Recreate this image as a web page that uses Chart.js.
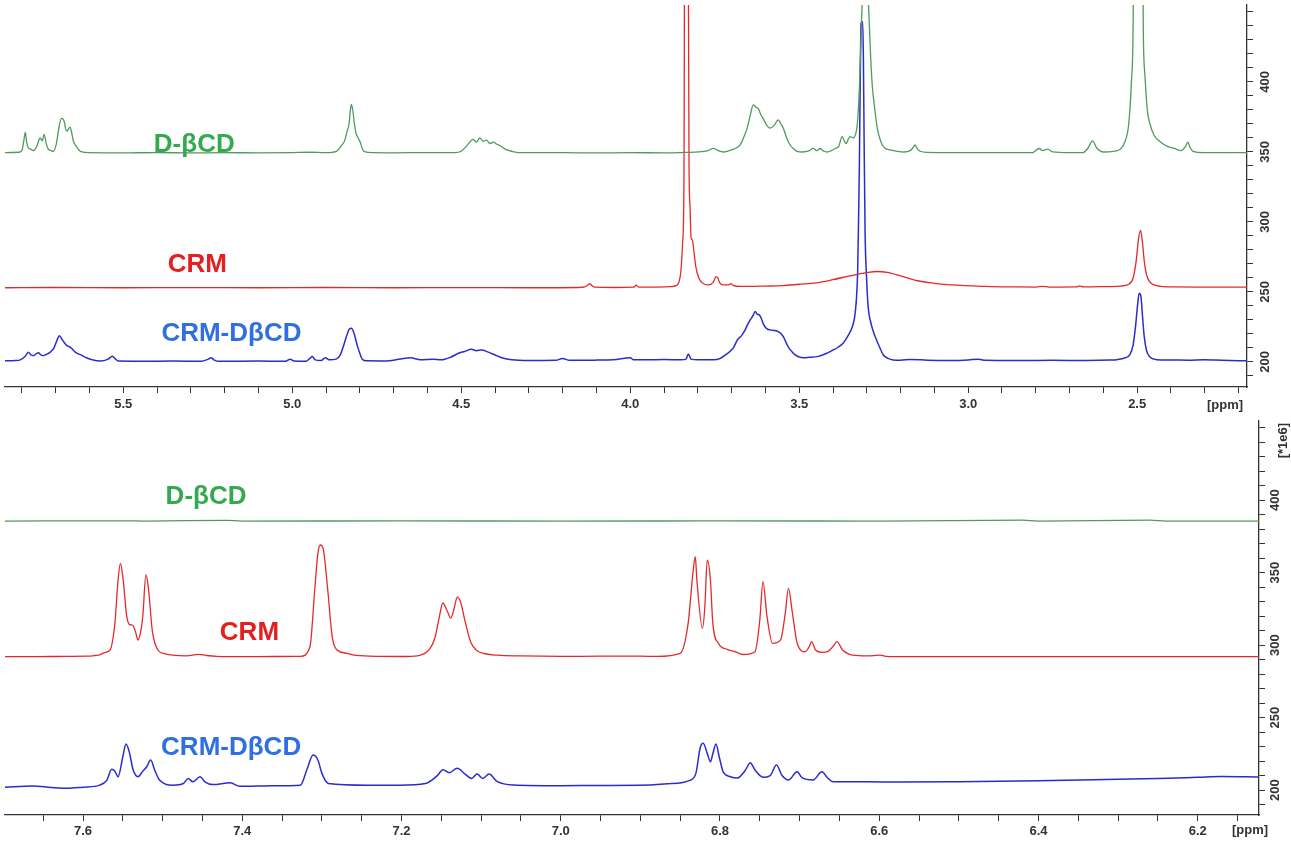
<!DOCTYPE html>
<html><head><meta charset="utf-8">
<script src="https://cdn.jsdelivr.net/npm/chart.js@4.4.0/dist/chart.umd.min.js"></script>
<style>
html,body{margin:0;padding:0;background:#fff;overflow:hidden}
#wrap{position:relative;width:1291px;height:846px;background:#fff}
canvas{position:absolute;left:0}
#c1{top:0}
#c2{top:420px}
</style></head><body>
<div id="wrap"><canvas id="c1" width="1291" height="420"></canvas><canvas id="c2" width="1291" height="426"></canvas></div>
<script>
// ---------- DATA (ppm, intensity *1e6) ----------
const seriesNames = ['D-βCD', 'CRM', 'CRM-DβCD'];
const lineColors = ['#4f9a5c', '#e5292b', '#2b2bd0'];
const textColors = ['#33aa4e', '#e3201f', '#2f6fe3'];

const topXLabels = ['5.5', '5.0', '4.5', '4.0', '3.5', '3.0', '2.5'];
const botXLabels = ['7.6', '7.4', '7.2', '7.0', '6.8', '6.6', '6.4', '6.2'];
const yLabels = ['200', '250', '300', '350', '400'];

const topLabelPpm = [5.29, 5.281, 5.18];
const topLabelVal = [355, 269.3, 220];
const botLabelPpm = [7.4455, 7.391, 7.414];
const botLabelVal = [402, 308.3, 229];

const topGreen = [[5.85,349.5],[5.81,349.8],[5.80,351],[5.795,357],[5.790,364],[5.786,357],[5.781,353],[5.774,352],[5.766,351],[5.756,354],[5.746,360],[5.740,358],[5.734,362.6],[5.728,356],[5.722,352],[5.714,351],[5.707,350.5],[5.698,356],[5.690,368],[5.683,374],[5.675,372],[5.670,366],[5.666,365],[5.661,367],[5.657,367.6],[5.652,363],[5.648,358],[5.642,355],[5.636,353],[5.630,351],[5.622,350],[5.60,349.5],[5.50,349.3],[5.40,349.6],[5.30,349.3],[5.20,349.5],[5.10,349.4],[5.00,349.6],[4.95,349.8],[4.90,349.5],[4.87,350.5],[4.853,355],[4.845,358],[4.838,364.5],[4.832,370],[4.828,380],[4.825,384],[4.821,380],[4.816,370],[4.811,363],[4.805,360],[4.799,357],[4.792,352],[4.784,350],[4.76,349.5],[4.70,349.4],[4.60,349.6],[4.52,349.5],[4.50,350.5],[4.485,354],[4.475,357],[4.465,359],[4.455,357],[4.445,360],[4.435,357.5],[4.425,358.5],[4.415,356],[4.405,357],[4.395,355.5],[4.385,354.5],[4.37,352],[4.35,350.5],[4.33,349.6],[4.20,349.5],[4.10,349.3],[4.00,349.5],[3.90,349.4],[3.85,349.6],[3.80,350],[3.77,351],[3.754,352.6],[3.74,351],[3.725,350],[3.70,351.5],[3.685,353],[3.675,355],[3.665,360],[3.654,367],[3.645,376],[3.636,383.6],[3.628,382],[3.621,381],[3.614,377],[3.607,374],[3.596,369],[3.586,367],[3.574,369],[3.562,373],[3.554,370],[3.547,367],[3.537,360],[3.527,355],[3.515,352],[3.506,350.5],[3.49,350],[3.47,351],[3.459,352.6],[3.448,351],[3.438,352.5],[3.427,350.5],[3.417,350],[3.405,351],[3.393,352.5],[3.383,354],[3.373,361],[3.367,358],[3.361,356],[3.355,359],[3.349,361],[3.340,360],[3.334,362],[3.328,370],[3.322,395],[3.316,440],[3.312,480],[3.305,700],[3.298,480],[3.294,450],[3.289,420],[3.284,398],[3.276,380],[3.269,367],[3.262,360],[3.254,355],[3.245,352.5],[3.231,351.5],[3.21,350.5],[3.19,350],[3.172,351],[3.165,352.5],[3.157,355],[3.150,352],[3.142,350.5],[3.12,349.7],[3.05,349.5],[2.95,349.5],[2.85,349.6],[2.81,349.5],[2.79,352.5],[2.78,351],[2.765,352],[2.75,350],[2.70,349.5],[2.66,349.6],[2.645,353],[2.632,358],[2.62,353],[2.60,350],[2.57,350.5],[2.55,352],[2.535,358],[2.525,370],[2.517,400],[2.512,440],[2.505,700],[2.488,700],[2.482,440],[2.477,405],[2.470,380],[2.462,370],[2.45,362],[2.43,357],[2.41,354],[2.39,352.5],[2.37,351],[2.357,354],[2.350,357],[2.343,353],[2.335,350.5],[2.30,349.6],[2.175,349.5]];

const topRed = [[5.85,253],[5.7,253.2],[5.5,253],[5.3,253.1],[5.1,253],[4.9,253.2],[4.7,253],[4.5,253.1],[4.3,253],[4.15,253.2],[4.135,253.6],[4.125,255],[4.12,256],[4.113,254.5],[4.105,253.4],[4.05,253.2],[3.99,253.4],[3.982,254.8],[3.975,253.5],[3.92,253.5],[3.88,253.8],[3.865,254.5],[3.856,257],[3.850,265],[3.845,285],[3.841,330],[3.838,600],[3.830,600],[3.826,340],[3.823,311],[3.820,289],[3.816,287],[3.812,280],[3.806,268],[3.797,260],[3.787,256.5],[3.77,255],[3.754,257],[3.746,261],[3.741,260],[3.735,256.5],[3.725,255],[3.710,255],[3.702,256],[3.695,254.6],[3.675,254],[3.65,254],[3.60,254.2],[3.55,254.5],[3.50,255.5],[3.45,256.5],[3.40,258.8],[3.35,261.5],[3.30,263.8],[3.27,264.6],[3.24,264],[3.20,261.5],[3.15,258],[3.10,256.2],[3.05,255],[2.95,254],[2.85,253.6],[2.80,253.5],[2.78,254],[2.76,253.5],[2.68,253.6],[2.67,254.3],[2.66,253.6],[2.60,253.8],[2.55,254.2],[2.525,255.5],[2.512,260],[2.503,272],[2.496,288],[2.490,294],[2.485,287],[2.479,272],[2.472,262],[2.462,257],[2.45,255],[2.43,254],[2.39,253.6],[2.30,253.5],[2.20,253.4],[2.175,253.5]];

const topBlue = [[5.85,200.8],[5.82,201],[5.805,201.5],[5.79,204],[5.781,207],[5.773,205],[5.766,204.5],[5.757,206],[5.751,206.6],[5.744,205],[5.737,204.5],[5.727,205.5],[5.716,207],[5.705,210],[5.697,215],[5.689,218.8],[5.681,216],[5.672,213],[5.666,211.5],[5.660,211],[5.652,209.5],[5.642,207],[5.625,205],[5.609,203],[5.592,201.5],[5.568,200.6],[5.545,202],[5.533,204],[5.525,202.5],[5.515,200.6],[5.45,200.5],[5.35,200.6],[5.27,200.5],[5.25,201.8],[5.240,203],[5.232,201.5],[5.22,200.5],[5.10,200.6],[5.02,200.5],[5.006,202],[4.995,200.7],[4.96,200.5],[4.948,202.5],[4.941,203.8],[4.932,201.5],[4.915,201],[4.902,203],[4.89,201.5],[4.87,202],[4.858,205],[4.849,211],[4.840,218],[4.831,223.5],[4.825,224],[4.818,221],[4.808,212],[4.800,206],[4.793,202],[4.78,200.8],[4.72,200.7],[4.651,203],[4.62,201.5],[4.583,202],[4.56,201.5],[4.53,203.5],[4.51,206],[4.49,207.5],[4.47,209],[4.455,208],[4.44,208.6],[4.42,207],[4.40,205],[4.38,203],[4.35,201.5],[4.30,201],[4.22,201.2],[4.20,202.5],[4.18,201.2],[4.10,201.3],[4.05,201.5],[4.0,203],[3.99,201.5],[3.95,201.5],[3.90,201.7],[3.85,201.5],[3.835,202],[3.828,205.7],[3.820,202],[3.80,201.5],[3.743,201.8],[3.713,206],[3.695,210],[3.683,215.7],[3.670,219],[3.660,222.9],[3.652,227],[3.645,230],[3.637,233],[3.630,236],[3.624,234],[3.618,233.6],[3.612,231],[3.607,227.6],[3.597,224],[3.586,222.9],[3.574,222.5],[3.562,221.6],[3.553,220],[3.547,218],[3.540,214.5],[3.533,211],[3.522,207.5],[3.512,205],[3.500,203.5],[3.488,203],[3.47,203.3],[3.447,203.8],[3.42,206],[3.399,208.6],[3.385,210.5],[3.370,213.4],[3.355,219],[3.343,225],[3.336,232],[3.331,244],[3.327,265],[3.325,292],[3.322,340],[3.320,387],[3.318,430],[3.317,442],[3.312,443],[3.310,415],[3.308,360],[3.305,292],[3.301,262],[3.296,239.5],[3.288,228],[3.281,222],[3.275,218],[3.263,211],[3.251,205],[3.237,202.5],[3.222,201.4],[3.20,201.2],[3.172,201.8],[3.12,201.2],[3.05,201],[3.00,201.4],[2.97,202],[2.95,201.2],[2.85,201],[2.75,201.2],[2.65,201],[2.58,201.3],[2.56,201.6],[2.535,203],[2.522,205],[2.512,212],[2.505,225],[2.499,240],[2.494,249],[2.489,247],[2.484,232],[2.479,218],[2.472,208],[2.462,203.5],[2.45,202],[2.43,201.4],[2.40,201.4],[2.35,201.2],[2.30,201.5],[2.25,201.2],[2.175,200.8]];

const botGreen = [[7.698,385.5],[7.55,385.7],[7.52,385.5],[7.42,386],[7.40,385.5],[7.2,385.6],[7.0,385.5],[6.8,385.6],[6.6,385.5],[6.42,386.1],[6.40,385.5],[6.26,386.1],[6.24,385.5],[6.123,385.5]];

const botRed = [[7.698,292],[7.66,292],[7.62,292.2],[7.595,292.3],[7.585,292.8],[7.579,293.3],[7.572,295],[7.566,296.6],[7.560,315],[7.556,344.8],[7.553,356.3],[7.550,347],[7.545,319.5],[7.541,314],[7.538,313.8],[7.534,309],[7.531,303.4],[7.528,308],[7.525,319.5],[7.521,348.3],[7.518,340],[7.513,310],[7.506,296.6],[7.497,294],[7.487,293],[7.47,292.6],[7.455,293.6],[7.445,292.8],[7.432,292.2],[7.40,292],[7.36,292.1],[7.327,292.2],[7.315,298.8],[7.309,338],[7.305,363.2],[7.302,369],[7.298,365.5],[7.293,340.2],[7.287,305.7],[7.281,296.6],[7.268,294.3],[7.261,293.2],[7.24,292.3],[7.20,292.1],[7.18,292.6],[7.165,297],[7.158,305],[7.153,318],[7.148,329],[7.143,324],[7.138,318.6],[7.134,325],[7.130,333],[7.126,330],[7.120,316],[7.113,302],[7.105,296],[7.095,294],[7.08,293],[7.05,292.5],[7.00,292.2],[6.95,292.3],[6.90,292.3],[6.879,292.2],[6.85,294.3],[6.840,315],[6.834,349.4],[6.831,360.9],[6.829,344.8],[6.822,311.5],[6.819,326.4],[6.816,358.6],[6.812,345],[6.809,315],[6.802,301.2],[6.791,297],[6.781,295.4],[6.771,293.5],[6.756,295.4],[6.750,317.2],[6.746,343.7],[6.741,320],[6.734,301.2],[6.724,303.4],[6.718,321.8],[6.714,339.1],[6.709,322],[6.703,301.2],[6.693,295.4],[6.688,298.8],[6.685,302.3],[6.680,296.6],[6.672,295],[6.665,295.4],[6.658,299],[6.653,302.3],[6.646,296.6],[6.633,293],[6.615,292.5],[6.599,293],[6.590,292.2],[6.574,292],[6.5,292],[6.4,292],[6.3,292],[6.2,292],[6.123,292]];

const botBlue = [[7.698,202],[7.663,202.8],[7.640,201.8],[7.620,201.2],[7.60,202],[7.579,203.4],[7.570,206.9],[7.564,214.3],[7.560,213],[7.556,209.2],[7.550,223],[7.546,231.7],[7.542,226.4],[7.537,213.8],[7.531,209.2],[7.525,213],[7.520,216.1],[7.515,220.7],[7.510,213.8],[7.504,206.9],[7.487,203.4],[7.474,204.5],[7.468,208],[7.462,205.7],[7.453,209.2],[7.447,205.7],[7.437,203.8],[7.415,205],[7.403,202.6],[7.36,203],[7.327,203.4],[7.319,213.8],[7.311,224.1],[7.305,220.7],[7.300,211.5],[7.292,204.6],[7.243,203.4],[7.202,203.4],[7.17,204.5],[7.155,210],[7.148,214],[7.140,212],[7.130,215],[7.120,211],[7.112,208],[7.105,211],[7.098,208],[7.090,211],[7.080,206],[7.060,203.5],[7.00,203],[6.95,203.2],[6.90,203.3],[6.866,204.3],[6.837,206.9],[6.830,212],[6.825,228.8],[6.821,232.2],[6.816,225.3],[6.812,219.5],[6.809,225],[6.805,231.7],[6.801,223],[6.796,212.6],[6.787,209.2],[6.778,208.3],[6.768,213.8],[6.762,218.9],[6.756,213.8],[6.746,208.8],[6.737,210],[6.729,217.2],[6.722,210],[6.714,206.9],[6.703,212.6],[6.697,208.5],[6.683,206.9],[6.672,212.6],[6.665,208.5],[6.658,205.7],[6.615,205.7],[6.574,205.5],[6.50,205.8],[6.40,206.5],[6.30,207.5],[6.25,208],[6.20,208.8],[6.17,209.3],[6.123,209]];

// ---------- rendering ----------
const AXIS = '#333333';
const TICKFONT = {family: '"Liberation Sans", Arial, sans-serif', size: 13, weight: 'bold'};

function pickLabel(list, v) {
  const hit = list.find(l => Math.abs(parseFloat(l) - v) < 1e-6);
  return hit ? hit : '';
}

const annotPlugin = {
  id: 'annot',
  afterDatasetsDraw(chart, args, opts) {
    const ctx = chart.ctx, xs = chart.scales.x, ys = chart.scales.y;
    ctx.save();
    ctx.font = 'bold 26px "Liberation Sans", Arial, sans-serif';
    ctx.textAlign = 'center';
    ctx.textBaseline = 'middle';
    seriesNames.forEach((n, i) => {
      ctx.fillStyle = textColors[i];
      ctx.fillText(n, xs.getPixelForValue(opts.ppm[i]), ys.getPixelForValue(opts.val[i]));
    });
    ctx.restore();
  },
  afterDraw(chart, args, opts) {
    const ctx = chart.ctx, ca = chart.chartArea;
    ctx.save();
    ctx.fillStyle = AXIS;
    ctx.font = 'bold 13px "Liberation Sans", Arial, sans-serif';
    ctx.textAlign = 'center';
    ctx.textBaseline = 'middle';
    ctx.fillText('[ppm]', ca.right + opts.ppmDx, ca.bottom + opts.ppmDy);
    if (opts.unit) {
      ctx.translate(ca.right + opts.unitDx, chart.scales.y.getPixelForValue(opts.unitVal));
      ctx.rotate(-Math.PI / 2);
      ctx.fillText('[*1e6]', 0, 0);
    }
    ctx.restore();
  }
};

function makeChart(id, sets, cfg) {
  return new Chart(document.getElementById(id), {
    type: 'line',
    data: {
      datasets: sets.map((s, i) => ({
        label: seriesNames[i],
        data: s.map(p => ({x: p[0], y: p[1]})),
        borderColor: lineColors[i],
        borderWidth: i === 2 ? 1.5 : 1.3,
        pointRadius: 0,
        cubicInterpolationMode: 'monotone',
        fill: false
      }))
    },
    options: {
      responsive: false,
      animation: false,
      events: [],
      layout: {padding: cfg.padding},
      plugins: {
        legend: {display: false},
        tooltip: {enabled: false},
        annot: cfg.annot
      },
      scales: {
        x: {
          type: 'linear', position: 'bottom', reverse: true,
          min: cfg.xmin, max: cfg.xmax,
          ticks: {
            stepSize: cfg.xstep, autoSkip: false, includeBounds: false,
            minRotation: 0, maxRotation: 0, padding: cfg.xpad,
            color: AXIS, font: TICKFONT,
            callback: v => pickLabel(cfg.xlabels, v)
          },
          grid: {drawOnChartArea: false, drawTicks: true, tickLength: 6, color: AXIS, lineWidth: 1},
          border: {display: true, color: AXIS, width: 1.3},
          afterFit: s => { s.height = cfg.xh; s.paddingLeft = 0; s.paddingRight = 0; }
        },
        y: {
          type: 'linear', position: 'right',
          min: cfg.ymin, max: cfg.ymax,
          ticks: {
            stepSize: 10, autoSkip: false, includeBounds: false,
            minRotation: 90, maxRotation: 90, crossAlign: 'center', padding: cfg.ypad,
            color: AXIS, font: TICKFONT,
            callback: v => pickLabel(yLabels, v)
          },
          grid: {drawOnChartArea: false, drawTicks: true, tickLength: 6, color: AXIS, lineWidth: 1},
          border: {display: true, color: AXIS, width: 1.3},
          afterFit: s => { s.width = cfg.yw; s.paddingTop = 0; s.paddingBottom = 0; }
        }
      }
    },
    plugins: [annotPlugin]
  });
}

makeChart('c1', [topGreen, topRed, topBlue], {
  padding: {left: 5, top: 5, right: 0, bottom: 0},
  xmin: 2.175, xmax: 5.85, xstep: 0.1, xlabels: topXLabels, xpad: 4, xh: 33,
  ymin: 182.1, ymax: 455, ypad: 2, yw: 44,
  annot: {ppm: topLabelPpm, val: topLabelVal, ppmDx: -22, ppmDy: 18, unit: false}
});

makeChart('c2', [botGreen, botRed, botBlue], {
  padding: {left: 5, top: 0, right: 0, bottom: 0},
  xmin: 6.123, xmax: 7.698, xstep: 0.05, xlabels: botXLabels, xpad: 3, xh: 31,
  ymin: 182.8, ymax: 455.2, ypad: 0, yw: 32,
  annot: {ppm: botLabelPpm, val: botLabelVal, ppmDx: -9, ppmDy: 15, unit: true, unitDx: 24, unitVal: 441}
});
</script>
</body></html>
